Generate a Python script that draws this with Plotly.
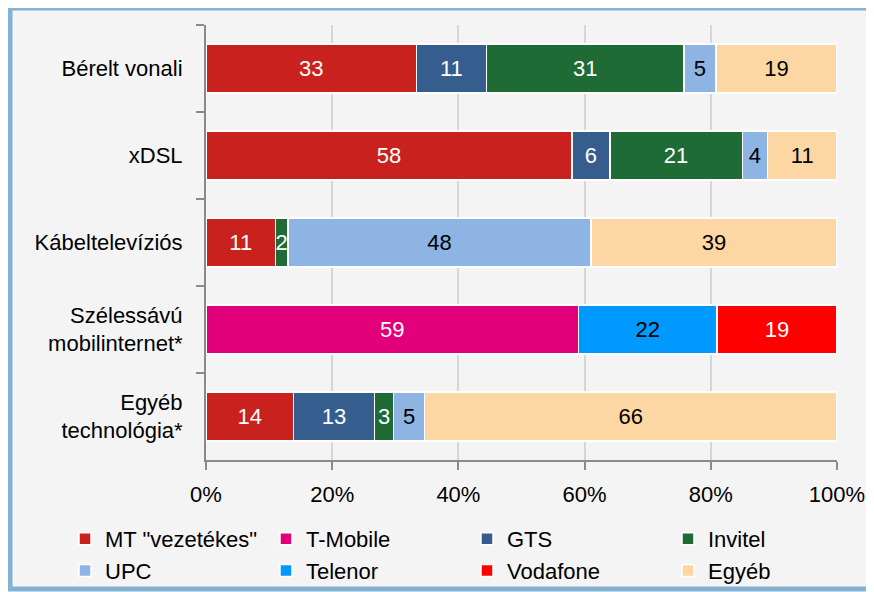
import plotly.graph_objects as go

categories = ["Bérelt vonali", "xDSL", "Kábeltelevíziós",
              "Szélessávú<br>mobilinternet*", "Egyéb<br>technológia*"]

series_names = ["MT \"vezetékes\"", "T-Mobile", "GTS", "Invitel",
                "UPC", "Telenor", "Vodafone", "Egyéb"]

mt_vezetekes = [33, 58, 11, None, 14]
t_mobile     = [None, None, None, 59, None]
gts          = [11, 6, None, None, 13]
invitel      = [31, 21, 2, None, 3]
upc          = [5, 4, 48, None, 5]
telenor      = [None, None, None, 22, None]
vodafone     = [None, None, None, 19, None]
egyeb        = [19, 11, 39, None, 66]

x_tick_values = [0, 20, 40, 60, 80, 100]
x_tick_labels = ["0%", "20%", "40%", "60%", "80%", "100%"]

series_values = [mt_vezetekes, t_mobile, gts, invitel, upc, telenor, vodafone, egyeb]
colors = ["#C9211E", "#E2007A", "#355E8E", "#1F6B36",
          "#8EB4E3", "#0099FF", "#FF0000", "#FDD7A3"]
text_colors = ["white", "white", "white", "white",
               "black", "black", "white", "black"]

FONT = "Liberation Sans, Arial, sans-serif"
FS = 22

fig = go.Figure()
for name, vals, col, tcol in zip(series_names, series_values, colors, text_colors):
    fig.add_trace(go.Bar(
        y=categories, x=vals, name=name, orientation="h",
        marker=dict(color=col, line=dict(color="white", width=1.5)),
        text=[("" if v is None else str(v)) for v in vals],
        textposition="inside", insidetextanchor="middle", textangle=0,
        insidetextfont=dict(color=tcol, size=FS, family=FONT),
    ))

# page offset (browser body margin)
OFF = 8
W, H = 874, 592
# plot area in screen pixels: x 206..837, y 25..460
L = 206 - OFF
R = W - (837 - OFF)
T = 25 - OFF
B = H - (460 - OFF)
pw, ph = W - L - R, H - T - B

def px_x(p):  # figure px -> paper
    return (p - L) / pw

def px_y(p):
    return (H - B - p) / ph

fig.update_layout(
    width=W, height=H,
    margin=dict(l=L, r=R, t=T, b=B, autoexpand=False),
    barmode="stack", barnorm="percent", bargap=0.435,
    paper_bgcolor="white", plot_bgcolor="rgba(0,0,0,0)",
    font=dict(family=FONT, size=FS, color="black"),
    uniformtext=dict(minsize=FS, mode="show"),
    showlegend=True,
    legend=dict(orientation="h", x=px_x(57), xanchor="left",
                y=px_y(510), yanchor="top", entrywidth=156,
                entrywidthmode="pixels", traceorder="normal",
                font=dict(size=FS, family=FONT), itemwidth=30,
                bgcolor="rgba(0,0,0,0)", tracegroupgap=0),
    xaxis=dict(range=[0, 100], tickvals=x_tick_values, ticktext=x_tick_labels,
               showgrid=True, gridcolor="#d6d6d6", gridwidth=2,
               showline=True, linecolor="#8a8a8a", linewidth=2,
               ticks="outside", ticklen=8, tickwidth=2, tickcolor="#8a8a8a",
               zeroline=False, automargin=False, ticklabelstandoff=6),
    yaxis=dict(autorange="reversed", type="category",
               showline=True, linecolor="#8a8a8a", linewidth=2,
               ticks="outside", ticklen=8, tickwidth=2, tickcolor="#8a8a8a",
               tickson="boundaries", ticklabelstandoff=17, showgrid=False,
               automargin=False),
    shapes=[dict(type="rect", xref="paper", yref="paper",
                 x0=px_x(2), x1=px_x(890), y0=px_y(581), y1=px_y(0),
                 line=dict(color="#84B2D4", width=5),
                 fillcolor="#F4F4F4", layer="below")],
)

fig.write_html("out.html")
